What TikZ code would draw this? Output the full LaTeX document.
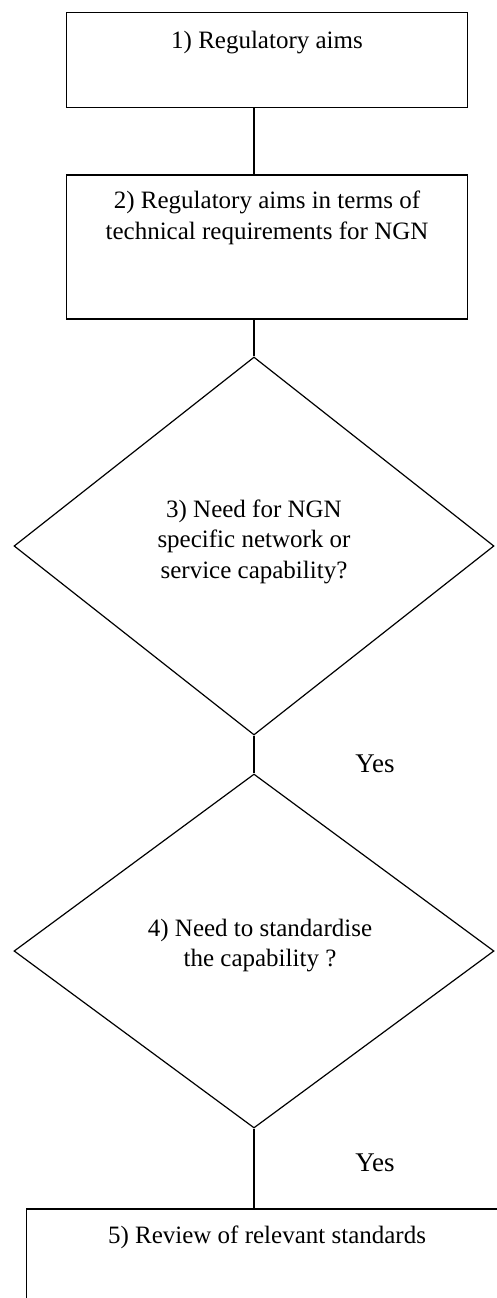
\documentclass[tikz,border=0pt]{standalone}
\usepackage{fontspec}
\setmainfont{Liberation Serif}
\usetikzlibrary{shapes.geometric}
\begin{document}
\begin{tikzpicture}[x=1pt,y=-1pt,
  shapeline/.style={draw=black,line width=1.2pt},
  boxnode/.style={shapeline,rectangle,inner sep=0pt},
  decision/.style={shapeline,diamond,inner sep=0pt},
  txt/.style={align=center,inner sep=0pt,font=\fontsize{25}{30.5}\selectfont},
  yeslabel/.style={inner sep=0pt,font=\fontsize{27}{30}\selectfont},
  conn/.style={draw=black,line width=1.2pt}]
\useasboundingbox (0,0) rectangle (497,1298);
\clip (0,0) rectangle (497,1298);
\node[boxnode,minimum width=400.6pt,minimum height=95pt] (b1) at (267,59.8) {};
\node[boxnode,minimum width=400.6pt,minimum height=144pt] (b2) at (267,247) {};
\node[decision,minimum width=480pt,minimum height=378pt] (d3) at (254,546) {};
\node[decision,minimum width=480pt,minimum height=354pt] (d4) at (254,951) {};
\node[boxnode,minimum width=480pt,minimum height=200pt] (b5) at (266.7,1309) {};
\node[txt] (t1) at (267,42.5) {1) Regulatory aims};
\node[txt] (t2) at (267,218) {2) Regulatory aims in terms of\\technical requirements for NGN};
\node[txt] (t3) at (254,541.7) {3) Need for NGN\\specific network or\\service capability?};
\node[txt] (t4) at (260,945.5) {4) Need to standardise\\the capability ?};
\node[txt] (t5) at (267,1237.5) {5) Review of relevant standards};
\node[yeslabel] (y1) at (375,764) {Yes};
\node[yeslabel] (y2) at (375,1163) {Yes};
\draw[conn] (b1.south -| d3.north) -- (b2.north -| d3.north);
\draw[conn] (b2.south -| d3.north) -- (d3.north);
\draw[conn] (d3.south) -- (d4.north);
\draw[conn] (d4.south) -- (d4.south |- b5.north);
\end{tikzpicture}
\end{document}
